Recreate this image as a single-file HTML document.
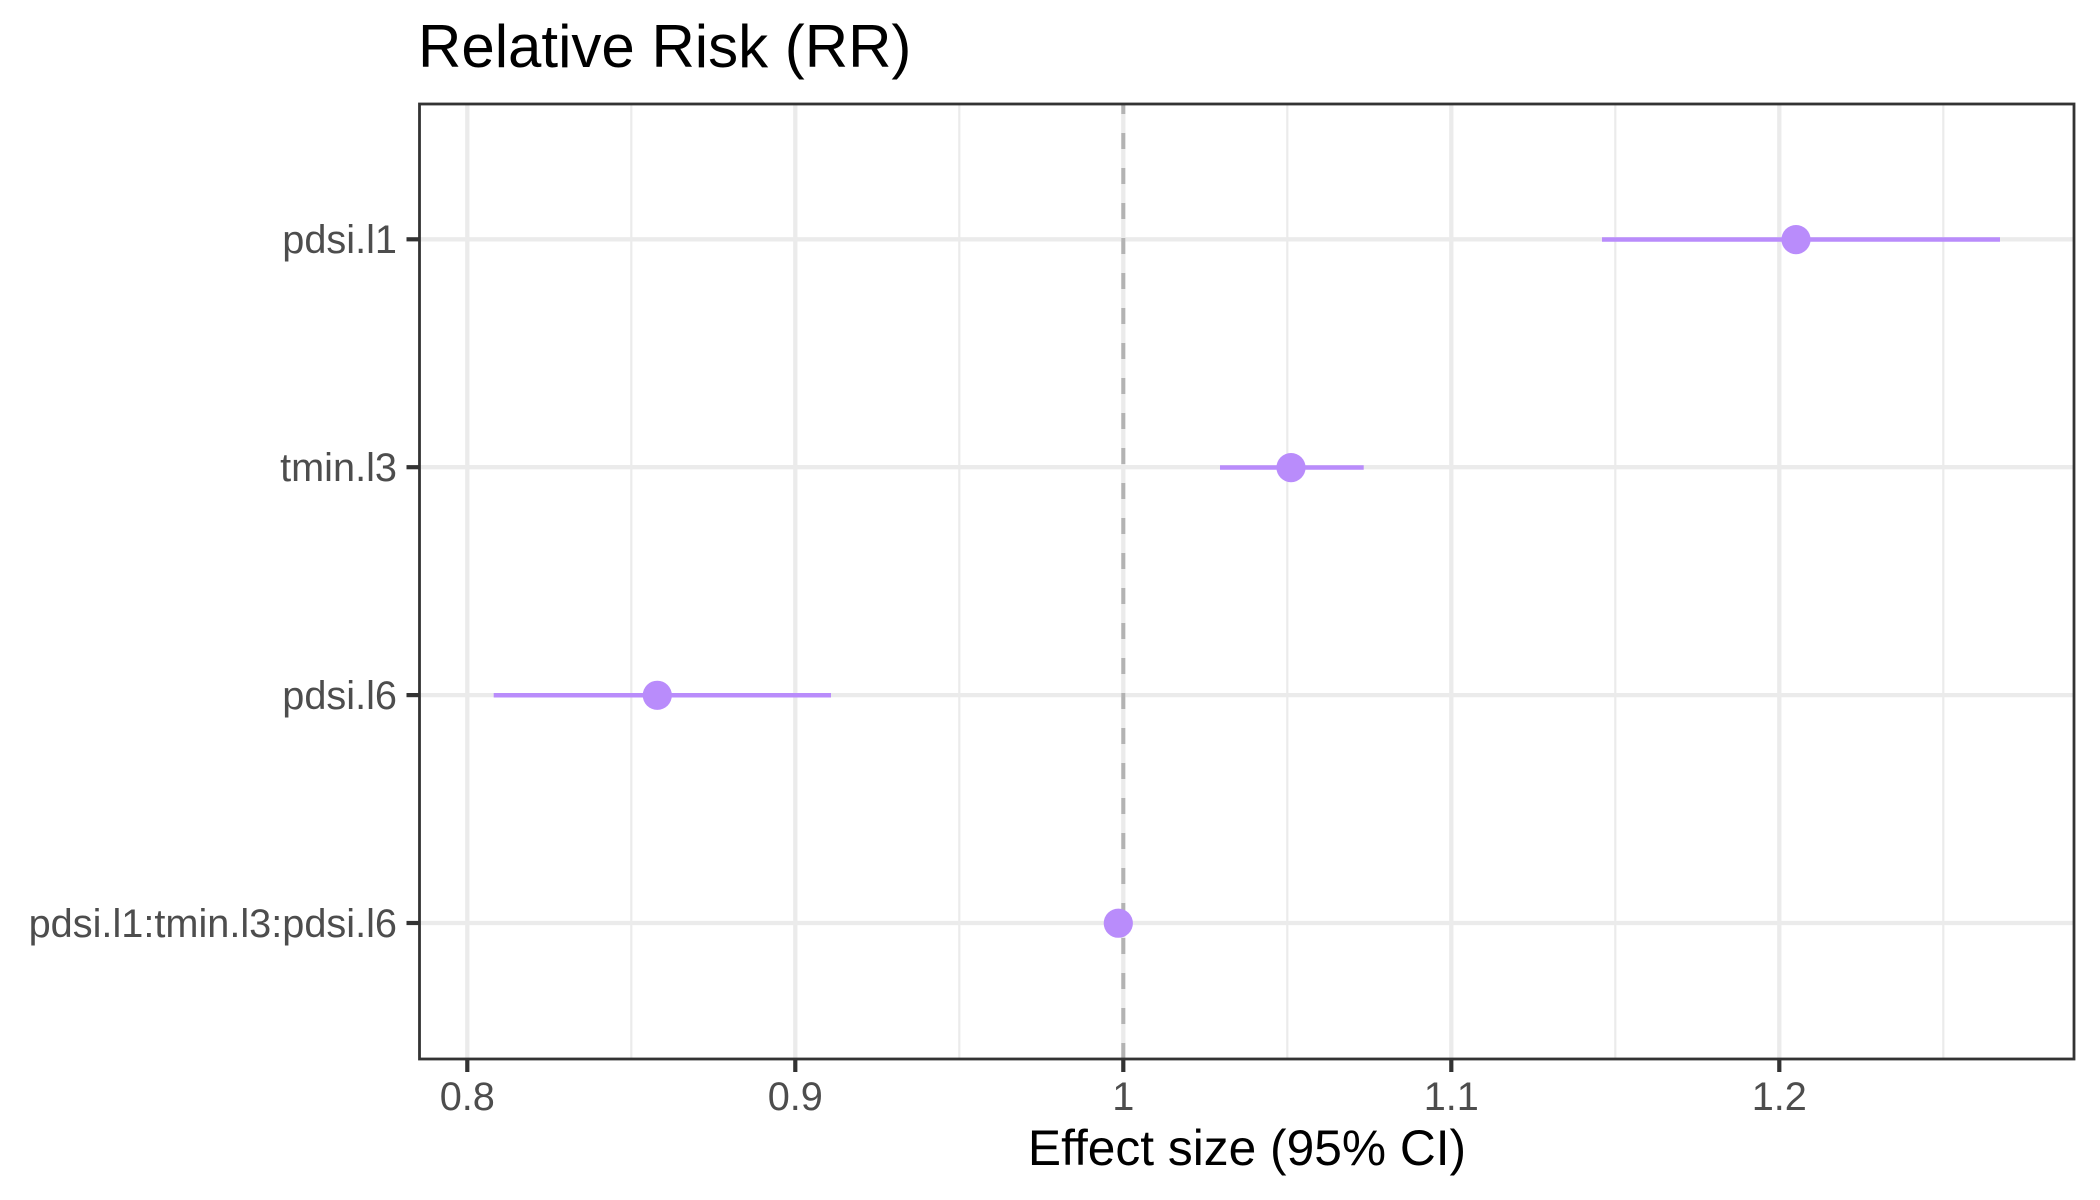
<!DOCTYPE html>
<html>
<head>
<meta charset="utf-8">
<style>
  html, body { margin: 0; padding: 0; background: #ffffff; }
  svg { display: block; }
  text { font-family: "Liberation Sans", Arial, sans-serif; }
</style>
</head>
<body>
<svg width="2100" height="1200" viewBox="0 0 2100 1200" xmlns="http://www.w3.org/2000/svg">
  <rect x="0" y="0" width="2100" height="1200" fill="#ffffff"/>

  <!-- Title -->
  <text x="418" y="67" font-size="60" fill="#000000">Relative Risk (RR)</text>

  <!-- Panel background -->
  <rect x="419.5" y="104" width="1654.5" height="955" fill="#ffffff"/>

  <!-- Minor vertical gridlines -->
  <g stroke="#EBEBEB" stroke-width="2.2">
    <line x1="631.3" y1="104" x2="631.3" y2="1059"/>
    <line x1="959.3" y1="104" x2="959.3" y2="1059"/>
    <line x1="1287.3" y1="104" x2="1287.3" y2="1059"/>
    <line x1="1615.3" y1="104" x2="1615.3" y2="1059"/>
    <line x1="1943.3" y1="104" x2="1943.3" y2="1059"/>
  </g>
  <!-- Major gridlines -->
  <g stroke="#EBEBEB" stroke-width="4.3">
    <line x1="467.3" y1="104" x2="467.3" y2="1059"/>
    <line x1="795.3" y1="104" x2="795.3" y2="1059"/>
    <line x1="1123.3" y1="104" x2="1123.3" y2="1059"/>
    <line x1="1451.3" y1="104" x2="1451.3" y2="1059"/>
    <line x1="1779.3" y1="104" x2="1779.3" y2="1059"/>
    <line x1="419.5" y1="239.3" x2="2074" y2="239.3"/>
    <line x1="419.5" y1="467.2" x2="2074" y2="467.2"/>
    <line x1="419.5" y1="695.1" x2="2074" y2="695.1"/>
    <line x1="419.5" y1="923" x2="2074" y2="923"/>
  </g>

  <!-- Dashed reference line at 1 -->
  <line x1="1123.3" y1="1059" x2="1123.3" y2="104" stroke="#B3B3B3" stroke-width="4" stroke-dasharray="16 19"/>

  <!-- Error bars -->
  <g stroke="#B98CFB" stroke-width="4.5">
    <line x1="1602" y1="239.5" x2="2000" y2="239.5"/>
    <line x1="1220" y1="467.5" x2="1363.7" y2="467.5"/>
    <line x1="493.7" y1="695.3" x2="831" y2="695.3"/>
    <line x1="1113" y1="923.2" x2="1123" y2="923.2"/>
  </g>

  <!-- Points -->
  <g fill="#B98CFB">
    <circle cx="1796" cy="239.6" r="14.6"/>
    <circle cx="1291" cy="467.6" r="14.6"/>
    <circle cx="657.3" cy="695.3" r="14.6"/>
    <circle cx="1118.3" cy="923.2" r="14.6"/>
  </g>

  <!-- Panel border -->
  <rect x="419.5" y="104" width="1654.5" height="955" fill="none" stroke="#333333" stroke-width="2.8"/>

  <!-- Y ticks -->
  <g stroke="#333333" stroke-width="4.2">
    <line x1="406.5" y1="239.3" x2="419.5" y2="239.3"/>
    <line x1="406.5" y1="467.2" x2="419.5" y2="467.2"/>
    <line x1="406.5" y1="695.1" x2="419.5" y2="695.1"/>
    <line x1="406.5" y1="923" x2="419.5" y2="923"/>
  </g>
  <!-- X ticks -->
  <g stroke="#333333" stroke-width="4.2">
    <line x1="467.3" y1="1059" x2="467.3" y2="1072"/>
    <line x1="795.3" y1="1059" x2="795.3" y2="1072"/>
    <line x1="1123.3" y1="1059" x2="1123.3" y2="1072"/>
    <line x1="1451.3" y1="1059" x2="1451.3" y2="1072"/>
    <line x1="1779.3" y1="1059" x2="1779.3" y2="1072"/>
  </g>

  <!-- Y labels -->
  <g font-size="39.7" fill="#4D4D4D" text-anchor="end">
    <text x="397" y="253">pdsi.l1</text>
    <text x="397" y="481">tmin.l3</text>
    <text x="397" y="709">pdsi.l6</text>
    <text x="397" y="937">pdsi.l1:tmin.l3:pdsi.l6</text>
  </g>

  <!-- X labels -->
  <g font-size="39.7" fill="#4D4D4D" text-anchor="middle">
    <text x="467.3" y="1110">0.8</text>
    <text x="795.3" y="1110">0.9</text>
    <text x="1123.3" y="1110">1</text>
    <text x="1451.3" y="1110">1.1</text>
    <text x="1779.3" y="1110">1.2</text>
  </g>

  <!-- X axis title -->
  <text x="1247" y="1165" font-size="49.7" fill="#000000" text-anchor="middle">Effect size (95% CI)</text>
</svg>
</body>
</html>
